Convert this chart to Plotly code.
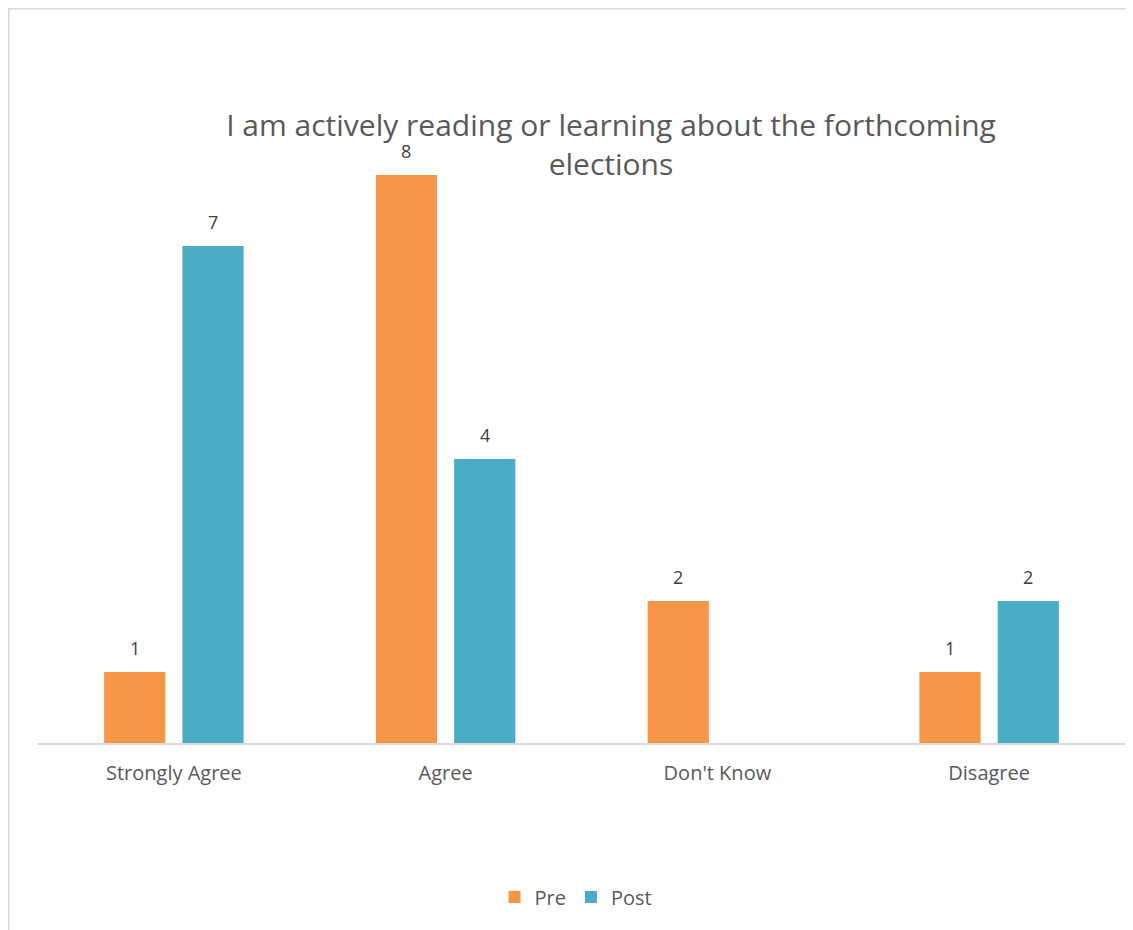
import plotly.graph_objects as go

categories = ["Strongly Agree", "Agree", "Don't Know", "Disagree"]
pre_values = [1, 8, 2, 1]
post_values = [7, 4, None, 2]
series_names = ["Pre", "Post"]
title_text = "I am actively reading or learning about the forthcoming<br>elections"

FONT = "Open Sans"
colors = ["#F79646", "#4BACC6"]

# page has an 8px body margin; figure is laid out in its own pixel space
W, H = 1125, 922
l, r, t, b = 30, 8, 96, 187
pw, ph = W - l - r, H - t - b

def px_x(px):
    return (px - l) / pw

def px_y(py):
    return (H - b - py) / ph

fig = go.Figure()
for name, vals, col in zip(series_names, [pre_values, post_values], colors):
    fig.add_trace(go.Bar(
        x=categories, y=vals, name=name,
        marker=dict(color=col, line=dict(width=0)),
        offsetgroup=name,
    ))

# data labels above bars
offsets = [-0.5, 0.5]
for vals, off in zip([pre_values, post_values], offsets):
    for i, (cat, v) in enumerate(zip(categories, vals)):
        if v is None:
            continue
        fig.add_annotation(
            x=i + off * 0.288, y=v, xref="x", yref="y",
            text=str(v), showarrow=False, yanchor="middle", yshift=24,
            font=dict(family=FONT, size=18, color="#404040"),
        )

fig.add_shape(type="rect", xref="paper", yref="paper",
              x0=px_x(0.75), x1=px_x(1200), y0=px_y(1000), y1=px_y(0.75),
              line=dict(color="#D9D9D9", width=1.5), fillcolor="rgba(0,0,0,0)", layer="below")

fig.update_layout(
    width=W, height=H,
    margin=dict(l=l, r=r, t=t, b=b),
    paper_bgcolor="white", plot_bgcolor="white",
    barmode="group", bargap=0.424, bargroupgap=0.218,
    title=dict(text=title_text, x=603 / W, xanchor="center", xref="container",
               y=1 - 128 / H, yanchor="middle", yref="container",
               font=dict(family=FONT, size=30, color="#595959")),
    xaxis=dict(showline=True, linecolor="#D9D9D9", linewidth=1.5, ticks="",
               tickfont=dict(family=FONT, size=20, color="#595959"), showgrid=False,
               ticklabelstandoff=11),
    yaxis=dict(range=[0, 9], visible=False, showgrid=False, zeroline=False),
    legend=dict(orientation="h", x=px_x(568), xanchor="center", y=px_y(889), yanchor="middle",
                font=dict(family=FONT, size=20, color="#595959"),
                itemwidth=30, tracegroupgap=0),
    showlegend=True,
)

fig.write_html("out.html")
